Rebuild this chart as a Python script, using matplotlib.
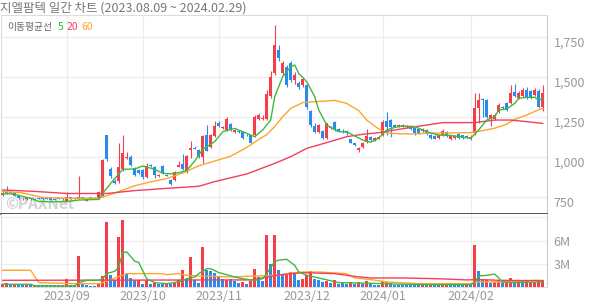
import numpy as np
import matplotlib.pyplot as plt
from matplotlib.transforms import ScaledTranslation

plt.rcParams["font.family"] = ["Noto Sans CJK KR", "DejaVu Sans"]

TITLE = "지엘팜텍 일간 차트 (2023.08.09 ~ 2024.02.29)"

# trading-day index of the first session of each month
month_starts = [16, 35, 54, 76, 95, 117]
month_labels = ["2023/09", "2023/10", "2023/11", "2023/12", "2024/01", "2024/02"]

price_ticks = [750, 1000, 1250, 1500, 1750]
volume_ticks = [3, 6, 9]
volume_tick_labels = ["3M", "6M", ""]

# daily candles (KRW)
opens = [
    760, 790, 775, 772, 758, 735, 735, 742, 738, 740,
    742, 748, 742, 740, 742, 742, 728, 750, 745, 742,
    748, 728, 748, 745, 738, 756, 1137, 925, 852, 852,
    923, 995, 1000, 931, 918, 919, 877, 953, 940, 883,
    944, 888, 856, 856, 940, 956, 906, 1044, 1058, 1044,
    1000, 1137, 1060, 1131, 1212, 1182, 1169, 1206, 1158, 1164,
    1158, 1140, 1135, 1135, 1240, 1238, 1240, 1379, 1523, 1670,
    1525, 1560, 1587, 1480, 1464, 1450, 1450, 1290, 1194, 1158,
    1162, 1120, 1180, 1221, 1175, 1165, 1160, 1112, 1085, 1044,
    1060, 1092, 1125, 1108, 1115, 1137, 1225, 1230, 1200, 1195,
    1190, 1188, 1186, 1180, 1175, 1165, 1170, 1137, 1130, 1120,
    1137, 1155, 1110, 1120, 1145, 1137, 1130, 1110, 1148, 1304,
    1362, 1356, 1235, 1240, 1283, 1310, 1335, 1335, 1406, 1370,
    1380, 1420, 1410, 1385, 1415, 1310,
]
highs = [
    790, 820, 790, 778, 762, 742, 745, 745, 742, 744,
    745, 752, 746, 743, 745, 745, 783, 752, 748, 883,
    752, 738, 752, 748, 790, 985, 1137, 940, 860, 1087,
    1137, 1030, 1010, 935, 925, 925, 960, 958, 945, 895,
    950, 892, 860, 912, 975, 1020, 1012, 1100, 1068, 1050,
    1140, 1200, 1145, 1225, 1225, 1195, 1250, 1215, 1175, 1170,
    1162, 1145, 1140, 1260, 1275, 1265, 1420, 1535, 1825, 1700,
    1600, 1575, 1600, 1530, 1475, 1500, 1455, 1295, 1210, 1205,
    1170, 1215, 1192, 1225, 1180, 1172, 1168, 1115, 1090, 1065,
    1095, 1175, 1130, 1125, 1130, 1230, 1281, 1240, 1205, 1208,
    1205, 1200, 1192, 1185, 1180, 1180, 1175, 1142, 1135, 1140,
    1175, 1160, 1135, 1135, 1150, 1140, 1135, 1135, 1400, 1398,
    1370, 1365, 1268, 1275, 1340, 1320, 1345, 1450, 1455, 1410,
    1430, 1435, 1420, 1430, 1425, 1450,
]
lows = [
    755, 770, 770, 755, 740, 730, 730, 732, 732, 735,
    733, 735, 732, 730, 735, 733, 725, 735, 738, 738,
    740, 722, 740, 736, 735, 752, 975, 870, 830, 840,
    915, 985, 945, 880, 895, 865, 870, 940, 870, 878,
    895, 880, 825, 850, 935, 920, 900, 995, 1048, 995,
    964, 1035, 1055, 1125, 1190, 1175, 1160, 1165, 1150, 1150,
    1115, 1130, 1085, 1125, 1230, 1230, 1230, 1370, 1510, 1600,
    1510, 1440, 1470, 1455, 1425, 1440, 1300, 1190, 1150, 1150,
    1110, 1115, 1175, 1165, 1160, 1150, 1140, 1085, 1070, 1030,
    1055, 1088, 1100, 1100, 1110, 1130, 1140, 1125, 1185, 1188,
    1185, 1180, 1170, 1140, 1145, 1155, 1140, 1115, 1110, 1115,
    1130, 1125, 1105, 1115, 1115, 1115, 1118, 1105, 1140, 1210,
    1250, 1245, 1195, 1230, 1275, 1300, 1285, 1330, 1375, 1360,
    1375, 1360, 1360, 1380, 1305, 1290,
]
closes = [
    775, 778, 782, 758, 742, 740, 742, 735, 734, 737,
    735, 738, 734, 733, 738, 736, 748, 740, 740, 748,
    743, 735, 742, 738, 783, 981, 985, 880, 835, 935,
    1027, 1003, 950, 887, 900, 873, 944, 946, 890, 890,
    900, 883, 833, 906, 950, 925, 1006, 1056, 1052, 1000,
    1131, 1040, 1137, 1194, 1194, 1188, 1237, 1171, 1170, 1156,
    1120, 1135, 1090, 1250, 1262, 1245, 1394, 1502, 1700, 1620,
    1587, 1450, 1481, 1510, 1440, 1490, 1315, 1200, 1158, 1200,
    1120, 1210, 1188, 1169, 1165, 1158, 1148, 1090, 1075, 1058,
    1090, 1131, 1105, 1118, 1125, 1221, 1190, 1190, 1190, 1202,
    1198, 1195, 1173, 1150, 1150, 1172, 1145, 1120, 1115, 1137,
    1162, 1130, 1131, 1130, 1120, 1118, 1122, 1128, 1304, 1356,
    1355, 1250, 1262, 1265, 1325, 1305, 1294, 1400, 1380, 1400,
    1420, 1375, 1370, 1420, 1310, 1400,
]

# daily volume (millions of shares), r = up day, b = down day
volumes = [
    0.47, 0.56, 0.39, 0.39, 0.39, 0.34, 0.34, 0.26, 0.26, 0.26,
    0.26, 0.26, 0.26, 0.26, 0.26, 0.34, 1.07, 0.34, 0.26, 4.03,
    0.47, 0.26, 0.21, 0.21, 0.47, 1.46, 8.40, 1.63, 0.90, 6.43,
    8.66, 1.76, 1.20, 0.90, 0.90, 0.43, 0.90, 0.47, 0.69, 0.47,
    0.47, 0.60, 0.39, 0.69, 0.90, 2.19, 1.10, 3.90, 0.90, 0.56,
    5.22, 2.19, 2.06, 1.85, 1.46, 1.10, 0.90, 1.10, 0.77, 0.60,
    0.69, 0.47, 0.77, 2.32, 1.29, 0.77, 6.73, 3.05, 6.78, 2.27,
    1.54, 1.54, 1.97, 1.76, 0.99, 1.10, 1.63, 2.10, 1.03, 0.90,
    0.69, 0.82, 0.60, 0.90, 0.47, 0.56, 0.47, 0.69, 0.47, 0.69,
    0.47, 0.82, 0.47, 0.34, 0.34, 0.77, 0.69, 0.56, 0.34, 0.34,
    0.34, 0.47, 0.34, 0.34, 0.34, 0.34, 0.34, 0.56, 0.34, 0.34,
    0.34, 0.56, 0.34, 0.26, 0.34, 0.26, 0.26, 0.26, 5.49, 2.10,
    0.90, 0.99, 0.56, 0.69, 0.90, 0.69, 0.77, 1.20, 0.90, 0.77,
    0.77, 0.77, 0.69, 0.69, 0.90, 0.90,
]
volume_dirs = (
    "rrbrbbrbrb" "bbbbbrrbbr" "bbbbrrrbbr" "rbbbrbrbrb" "brbrrrbrbb"
    "rbbbbbrbbb" "rbrrbbrbrb" "brrbbrrrbb" "brbrbbbrbr" "brbbbrrbbb"
    "bbbbbrbrbb" "rrbbbbrbrb" "brbrrbrrbr" "brrrrr"
)

# moving averages (day index, value)
ma5_days = [0, 2, 4, 7, 9, 12, 16, 19, 24, 25, 27, 30, 33, 35, 38, 40, 42, 44,
            46, 48, 50, 53, 55, 58, 60, 63, 65, 67, 68, 70, 72, 73, 74, 76, 78,
            79, 81, 84, 86, 88, 90, 92, 94, 96, 98, 100, 103, 106, 109, 112,
            114, 117, 119, 121, 123, 124, 126, 128, 129, 131, 133, 134, 135]
ma5_vals = [769, 770, 760, 742, 722, 720, 721, 731, 735, 773, 835, 923, 925,
            944, 923, 898, 895, 902, 915, 975, 1048, 1096, 1158, 1179, 1158,
            1127, 1169, 1231, 1377, 1502, 1564, 1575, 1523, 1471, 1377, 1294,
            1200, 1158, 1158, 1131, 1106, 1092, 1117, 1169, 1185, 1194, 1190,
            1158, 1137, 1135, 1127, 1117, 1169, 1231, 1252, 1294, 1300, 1335,
            1367, 1373, 1373, 1356, 1365]

ma20_days = [0, 8, 16, 26, 33, 41, 49, 53, 61, 68, 72, 76, 81, 86, 90, 94, 98,
             106, 110, 118, 123, 127, 131, 135]
ma20_vals = [794, 785, 772, 772, 790, 804, 817, 846, 894, 960, 1002, 1054, 1090,
             1127, 1142, 1152, 1169, 1200, 1215, 1215, 1231, 1231, 1221, 1210]

ma60_days = [0, 5, 10, 16, 24, 28, 33, 37, 41, 45, 49, 53, 57, 61, 64, 66, 68,
             70, 72, 75, 78, 80, 83, 86, 89, 91, 94, 96, 98, 102, 106, 110, 114,
             117, 120, 123, 126, 128, 131, 133, 135]
ma60_vals = [785, 775, 747, 742, 742, 775, 820, 845, 865, 900, 945, 975, 1005,
             1060, 1110, 1140, 1190, 1252, 1304, 1340, 1346, 1348, 1354, 1335,
             1290, 1231, 1175, 1150, 1146, 1144, 1148, 1150, 1151, 1152, 1165,
             1180, 1205, 1235, 1262, 1285, 1304]

# volume moving averages (day index, millions)
vma5_days = [0, 7, 8, 18, 19, 21, 24, 25, 26, 28, 29, 30, 31, 33, 34, 36, 38,
             41, 44, 46, 48, 49, 51, 52, 54, 55, 58, 60, 63, 65, 66, 68, 69, 71,
             73, 74, 76, 79, 84, 92, 100, 108, 117, 118, 119, 121, 123, 125,
             127, 134, 135]
vma5_vals = [0.39, 0.39, 0.17, 0.17, 0.60, 0.90, 0.90, 1.10, 1.76, 2.06, 2.60,
             4.46, 4.55, 3.35, 3.20, 1.10, 0.60, 0.47, 0.69, 1.10, 1.33, 1.76,
             2.40, 2.40, 1.89, 1.76, 1.33, 1.10, 0.90, 1.10, 1.76, 3.30, 3.50,
             3.60, 2.83, 1.97, 1.54, 1.20, 0.60, 0.52, 0.39, 0.34, 0.34, 0.60,
             1.46, 1.54, 1.70, 0.69, 0.60, 0.69, 0.69]

vma20_days = [0, 62, 66, 69, 75, 83, 88, 92, 100, 109, 116, 119, 124, 135]
vma20_vals = [0.90, 0.95, 1.30, 1.60, 1.88, 1.76, 1.40, 1.20, 1.20, 1.10, 0.95,
              1.00, 0.90, 0.85]

vma60_days = [0, 7, 9, 18, 24, 25, 31, 40, 41, 44, 46, 49, 57, 64, 69, 72, 75,
              79, 86, 88, 92, 96, 104, 117, 118, 125, 133, 135]
vma60_vals = [2.19, 2.19, 0.60, 0.47, 0.47, 0.60, 1.76, 1.76, 1.63, 1.76, 1.54,
              1.46, 1.33, 1.46, 1.55, 1.84, 1.97, 1.97, 1.76, 1.20, 0.99, 0.69,
              0.47, 0.47, 0.69, 0.69, 0.90, 0.90]

RED = "#f43f4b"
BLUE = "#2b8bec"
GREEN = "#3dba3d"
ORANGE = "#fca62c"
PINK = "#f23f5e"
GRID = "#eeeeee"
LABEL = "#999999"


def draw_candles(ax):
    x = np.arange(len(closes))
    o, h, l, c = (np.array(v, dtype=float) for v in (opens, highs, lows, closes))
    colors = np.where(c >= o, RED, BLUE)
    ax.vlines(x, l, h, colors=colors, linewidth=0.8, zorder=3)
    ax.bar(
        x,
        np.maximum(np.abs(c - o), 5),
        bottom=np.minimum(o, c),
        width=0.72,
        color=colors,
        linewidth=0,
        zorder=4,
    )
    ax.plot(ma60_days, ma60_vals, color=ORANGE, linewidth=1.0, zorder=5)
    ax.plot(ma20_days, ma20_vals, color=PINK, linewidth=1.0, zorder=5)
    ax.plot(ma5_days, ma5_vals, color=GREEN, linewidth=1.0, zorder=6)


def draw_volume(ax):
    x = np.arange(len(volumes))
    colors = [RED if d == "r" else BLUE for d in volume_dirs]
    ax.bar(x, volumes, width=0.72, color=colors, linewidth=0, zorder=3)
    ax.plot(vma60_days, vma60_vals, color=ORANGE, linewidth=1.0, zorder=4)
    ax.plot(vma20_days, vma20_vals, color=PINK, linewidth=1.0, zorder=4)
    ax.plot(vma5_days, vma5_vals, color=GREEN, linewidth=1.0, zorder=5)


def style_axes(ax):
    ax.set_axisbelow(True)
    ax.grid(True, color=GRID, linewidth=0.9)
    ax.yaxis.tick_right()
    ax.tick_params(axis="both", length=0, labelcolor=LABEL, labelsize=9)
    ax.tick_params(axis="y", pad=5)
    for side in ("left", "top"):
        ax.spines[side].set_color("#dddddd")
    ax.spines["right"].set_color("#cccccc")


if __name__ == "__main__":
    W, H = 594, 304
    fig = plt.figure(figsize=(W / 100, H / 100), dpi=100)
    left, right = 1 / W, 546.7 / W
    ax_price = fig.add_axes([left, 1 - 214 / H, right - left, 199 / H])
    ax_vol = fig.add_axes(
        [left, 1 - 287.3 / H, right - left, 73.3 / H], sharex=ax_price
    )

    draw_candles(ax_price)
    draw_volume(ax_vol)

    for ax in (ax_price, ax_vol):
        style_axes(ax)

    ax_price.set_xlim(-0.43, 136.0)
    ax_price.set_ylim(643.75, 1887.5)
    ax_vol.set_ylim(0, 9.43)

    ax_price.set_xticks(month_starts)
    ax_price.tick_params(axis="x", labelbottom=False)
    ax_vol.set_xticks(month_starts, month_labels)
    ax_vol.tick_params(axis="x", pad=2)

    ax_price.set_yticks(price_ticks, [f"{v:,}" for v in price_ticks])
    shift = ScaledTranslation(0, -3.5 / 72, fig.dpi_scale_trans)
    for label in ax_price.get_yticklabels():
        label.set_transform(label.get_transform() + shift)
    ax_vol.set_yticks(volume_ticks, volume_tick_labels)

    ax_price.spines["bottom"].set_color("#333333")
    ax_price.spines["bottom"].set_linewidth(1.2)
    ax_vol.spines["top"].set_visible(False)
    ax_vol.spines["bottom"].set_color("#dddddd")

    ax_price.text(
        0.008, 0.05, "©PAXNet", transform=ax_price.transAxes,
        fontsize=11, fontweight="bold", color="#d2d2d2",
        ha="left", va="center", zorder=1,
    )

    fig.text(0.0, 1 - 8 / H, TITLE, fontsize=9, color="#777777",
             ha="left", va="center")
    legend_y = 1 - 27 / H
    fig.text(7 / W, legend_y, "이동평균선", fontsize=7, color="#666666",
             ha="left", va="center")
    fig.text(57.5 / W, legend_y, "5", fontsize=7.5, color=GREEN,
             ha="left", va="center")
    fig.text(67 / W, legend_y, "20", fontsize=7.5, color=PINK,
             ha="left", va="center")
    fig.text(81.5 / W, legend_y, "60", fontsize=7.5, color=ORANGE,
             ha="left", va="center")

    fig.savefig("out.png", dpi=100)
